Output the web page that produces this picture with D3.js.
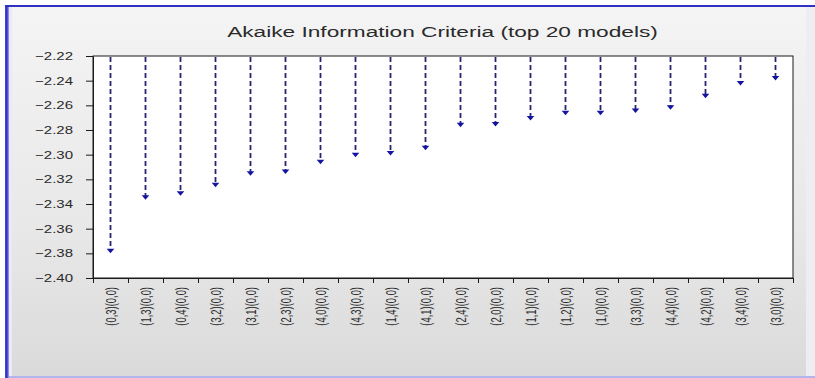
<!DOCTYPE html>
<html>
<head>
<meta charset="utf-8">
<script src="https://cdn.jsdelivr.net/npm/d3@7"></script>
<style>
  html, body { margin: 0; padding: 0; background: #ffffff; }
  svg { display: block; }
  text { font-family: "Liberation Sans", Arial, sans-serif; fill: #2a2a2a; }
</style>
</head>
<body>
<svg id="chart" width="815" height="378"></svg>
<script>
// Model specifications, ordered by criterion value
const models = [
  "(0,3)(0,0)", "(1,3)(0,0)", "(0,4)(0,0)", "(3,2)(0,0)", "(3,1)(0,0)",
  "(2,3)(0,0)", "(4,0)(0,0)", "(4,3)(0,0)", "(1,4)(0,0)", "(4,1)(0,0)",
  "(2,4)(0,0)", "(2,0)(0,0)", "(1,1)(0,0)", "(1,2)(0,0)", "(1,0)(0,0)",
  "(3,3)(0,0)", "(4,4)(0,0)", "(4,2)(0,0)", "(3,4)(0,0)", "(3,0)(0,0)"
];
// Akaike information criterion for each model
const aicValues = [
  -2.3800, -2.3366, -2.3334, -2.3264, -2.3170,
  -2.3157, -2.3077, -2.3020, -2.3007, -2.2964,
  -2.2777, -2.2772, -2.2723, -2.2680, -2.2680,
  -2.2662, -2.2636, -2.2542, -2.2439, -2.2398
];
const yTickValues = [-2.22, -2.24, -2.26, -2.28, -2.30, -2.32, -2.34, -2.36, -2.38, -2.40];
const yDomain = [-2.40, -2.22];
const titleText = "Akaike Information Criteria (top 20 models)";

const svg = d3.select("#chart");
const W = 815, H = 378;
const plot = { left: 93, right: 793, top: 56, bottom: 278 };

// ---- window frame ----
const defs = svg.append("defs");
const bg = defs.append("linearGradient").attr("id", "bg").attr("x1", 0).attr("y1", 0).attr("x2", 0).attr("y2", 1);
bg.append("stop").attr("offset", "0%").attr("stop-color", "#f4f4f4");
bg.append("stop").attr("offset", "60%").attr("stop-color", "#e8e8e8");
bg.append("stop").attr("offset", "100%").attr("stop-color", "#dadada");
const lb = defs.append("linearGradient").attr("id", "lb").attr("x1", 0).attr("y1", 0).attr("x2", 1).attr("y2", 0);
lb.append("stop").attr("offset", "0%").attr("stop-color", "#5050e0");
lb.append("stop").attr("offset", "45%").attr("stop-color", "#2828c0");
lb.append("stop").attr("offset", "100%").attr("stop-color", "#a8a8ec");

svg.append("rect").attr("x", 0).attr("y", 0).attr("width", W).attr("height", H).attr("fill", "#ffffff");
svg.append("rect").attr("x", 5).attr("y", 5).attr("width", W - 5).attr("height", H - 5).attr("fill", "#eeeef2");
svg.append("rect").attr("x", 9).attr("y", 7).attr("width", 797).attr("height", H - 9).attr("fill", "url(#bg)");
svg.append("rect").attr("x", 9).attr("y", 7).attr("width", 3).attr("height", H - 9).attr("fill", "#eaeaf8");
svg.append("rect").attr("x", 5).attr("y", 5).attr("width", 4).attr("height", H - 5).attr("fill", "url(#lb)");
svg.append("rect").attr("x", 5).attr("y", 5).attr("width", W - 5).attr("height", 2).attr("fill", "#3030c4");
svg.append("rect").attr("x", 9).attr("y", H - 2).attr("width", W - 9).attr("height", 2).attr("fill", "#b4b4ec");

// ---- title ----
const title = svg.append("text")
  .attr("text-anchor", "middle")
  .attr("font-size", 14)
  .attr("fill", "#262626")
  .text(titleText);
const titleNatural = title.node().getComputedTextLength();
title.attr("transform", `translate(442.5,37) scale(${431 / titleNatural},1)`);

// ---- scales ----
const x = d3.scaleBand().domain(models).range([plot.left, plot.right]).paddingInner(0).paddingOuter(0);
const xEdges = d3.scaleLinear().domain([0, models.length]).range([plot.left, plot.right]);
const y = d3.scaleLinear().domain(yDomain).range([plot.bottom, plot.top]);

// plot area
svg.append("rect")
  .attr("x", plot.left).attr("y", plot.top)
  .attr("width", plot.right - plot.left).attr("height", plot.bottom - plot.top)
  .attr("fill", "#ffffff").attr("stroke", "#1a1a1a").attr("stroke-width", 1);

// ---- y axis ----
const yAxis = svg.append("g")
  .attr("transform", `translate(${plot.left},0)`)
  .call(d3.axisLeft(y).tickValues(yTickValues).tickSize(7).tickSizeOuter(0).tickFormat(d3.format(".2f")));
yAxis.select(".domain").attr("stroke", "#1a1a1a");
yAxis.selectAll(".tick line").attr("stroke", "#1a1a1a");
yAxis.selectAll(".tick text").attr("font-size", 11).attr("fill", "#2a2a2a").attr("x", 0);
const yNatural = yAxis.select(".tick text").node().getComputedTextLength();
const sx = 38 / yNatural;
yAxis.selectAll(".tick text").attr("transform", `translate(-20,0) scale(${sx},1)`);

// ---- x axis: tick marks on category boundaries ----
const xAxis = svg.append("g")
  .attr("transform", `translate(0,${plot.bottom})`)
  .call(d3.axisBottom(xEdges).tickValues(d3.range(models.length + 1)).tickSize(5).tickFormat(""));
xAxis.select(".domain").attr("stroke", "#1a1a1a");
xAxis.selectAll(".tick line").attr("stroke", "#1a1a1a");

// category labels, rotated, centred on each band
const sxLabels = sx * 1.15;
svg.append("g").selectAll("text")
  .data(models)
  .join("text")
  .attr("text-anchor", "end")
  .attr("font-size", 9.4)
  .attr("dy", "0.35em")
  .attr("fill", "#2a2a2a")
  .attr("transform", d => `translate(${x(d) + x.bandwidth() / 2},287) scale(${sxLabels},1) rotate(-90)`)
  .text(d => d);

// ---- spikes from the top of the frame down to each value ----
const marks = svg.append("g");
const data = models.map((m, i) => ({ m, v: aicValues[i] }));
marks.selectAll("line")
  .data(data)
  .join("line")
  .attr("x1", d => x(d.m) + x.bandwidth() / 2)
  .attr("x2", d => x(d.m) + x.bandwidth() / 2)
  .attr("y1", y(yDomain[1]) + 1)
  .attr("y2", d => y(d.v) - 3)
  .attr("stroke", "#262670")
  .attr("stroke-width", 1.8)
  .attr("stroke-dasharray", "5,3");

marks.selectAll("path")
  .data(data)
  .join("path")
  .attr("d", d => {
    const cx = x(d.m) + x.bandwidth() / 2, ty = y(d.v);
    return `M${cx - 3.8},${ty - 4.5}L${cx + 3.8},${ty - 4.5}L${cx},${ty}Z`;
  })
  .attr("fill", "#1414a0");
</script>
</body>
</html>
